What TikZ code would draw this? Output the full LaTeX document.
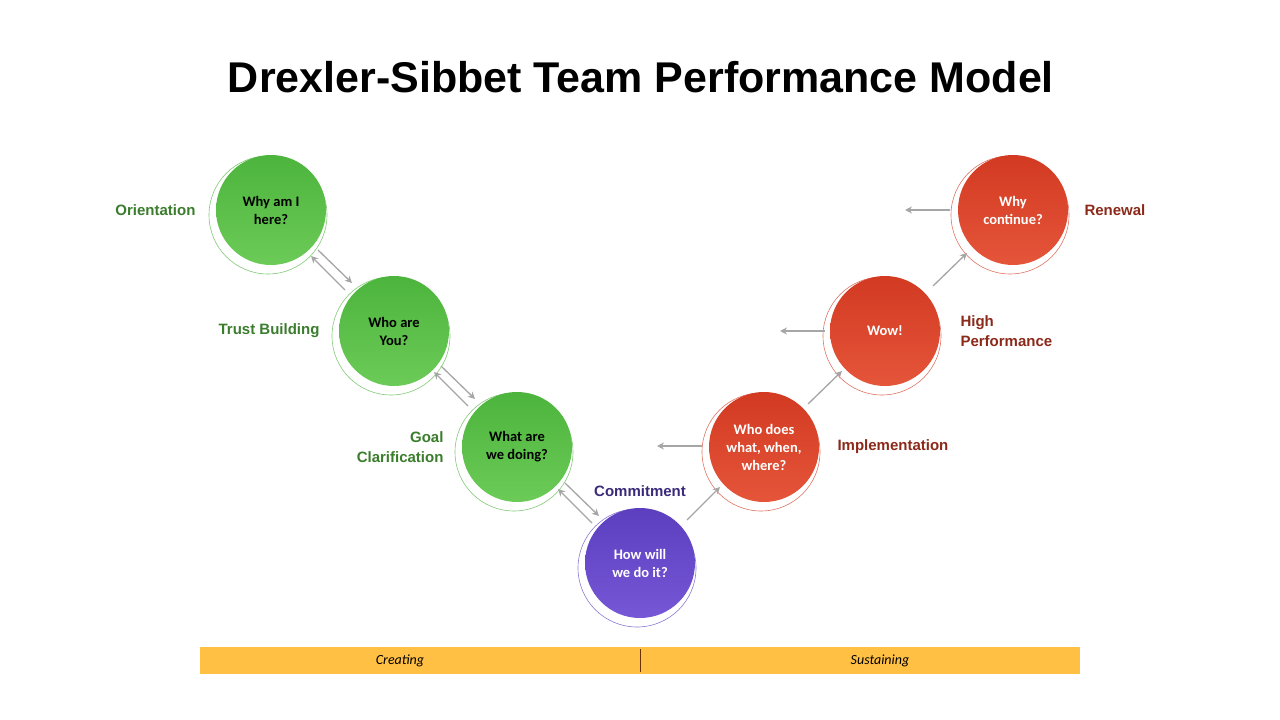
\documentclass[tikz,border=0pt]{standalone}
\usepackage{fontspec}
\setmainfont{Liberation Sans}
\newfontfamily\carfont{Carlito}
\usetikzlibrary{arrows.meta}
\definecolor{gA}{HTML}{4CB43C}\definecolor{gB}{HTML}{6CCB58}
\definecolor{rA}{HTML}{D23A22}\definecolor{rB}{HTML}{E5553A}
\definecolor{pA}{HTML}{5B3FBF}\definecolor{pB}{HTML}{7657D6}
\definecolor{gT}{HTML}{3A7D2C}\definecolor{rT}{HTML}{8B2A1A}\definecolor{pT}{HTML}{3B2A7A}
\begin{document}
\begin{tikzpicture}[x=1pt,y=-1pt,
 stage/.style={circle,minimum size=110pt,inner sep=0pt,align=center,font=\carfont\bfseries\fontsize{14.5}{18}\selectfont},
 gst/.style={stage,top color=gA,bottom color=gB,text=black},
 rst/.style={stage,top color=rA,bottom color=rB,text=white},
 pst/.style={stage,top color=pA,bottom color=pB,text=white},
 lab/.style={font=\bfseries\fontsize{15}{20}\selectfont,align=left},
 arr/.style={draw=gray!70,line width=1.3pt,-{Stealth[length=7pt,width=7pt]}}]
\useasboundingbox (0,0) rectangle (1280,720);
\fill[white] (0,0) rectangle (1280,720);
\node[font=\bfseries\fontsize{43}{50}\selectfont] (title) at (641,77) {Drexler-Sibbet Team Performance Model};
% rings
\foreach \x/\y/\c in {271/210/gA,394/331/gA,517/447/gA,640/563/pA,764/447/rA,885/331/rA,1013/210/rA}
  \draw[\c!70,line width=0.6pt] (\x-3,\y+5) circle (59);
\node[gst] (o) at (271,210) {Why am I\\here?};
\node[gst] (t) at (394,331) {Who are\\You?};
\node[gst] (g) at (517,447) {What are\\we doing?};
\node[pst] (c) at (640,563) {How will\\we do it?};
\node[rst] (i) at (764,447) {Who does\\what, when,\\where?};
\node[rst] (h) at (885,331) {Wow!};
\node[rst] (r) at (1013,210) {Why\\continue?};
% labels
\node[lab,text=gT,anchor=east] (lo) at (199,210) {Orientation};
\node[lab,text=gT,anchor=east] (lt) at (323,331) {Trust Building};
\node[lab,text=gT,anchor=east,align=right] (lg) at (447,447) {Goal\\Clarification};
\node[lab,text=pT] (lc) at (640,491) {Commitment};
\node[lab,text=rT,anchor=west] (li) at (834,447) {Implementation};
\node[lab,text=rT,anchor=west] (lh) at (957,331) {High\\Performance};
\node[lab,text=rT,anchor=west] (lr) at (1081,210) {Renewal};
% arrows
\coordinate (a1) at (318,250); \coordinate (a2) at (352,283);
\coordinate (a3) at (345,290); \coordinate (a4) at (311,256);
\draw[arr] (a1) -- (a2); \draw[arr] (a3) -- (a4);
\coordinate (b1) at (441,366); \coordinate (b2) at (475,399);
\coordinate (b3) at (468,406); \coordinate (b4) at (434,372);
\draw[arr] (b1) -- (b2); \draw[arr] (b3) -- (b4);
\coordinate (c1) at (565,483); \coordinate (c2) at (599,516);
\coordinate (c3) at (592,523); \coordinate (c4) at (558,489);
\draw[arr] (c1) -- (c2); \draw[arr] (c3) -- (c4);
\coordinate (d1) at (687,520); \coordinate (d2) at (720,487);
\coordinate (e1) at (808,404); \coordinate (e2) at (842,371);
\coordinate (f1) at (933,286); \coordinate (f2) at (967,253);
\draw[arr] (d1) -- (d2); \draw[arr] (e1) -- (e2); \draw[arr] (f1) -- (f2);
\coordinate (l1) at (702,446); \coordinate (l2) at (657,446);
\coordinate (m1) at (825,331); \coordinate (m2) at (780,331);
\coordinate (n1) at (950,210); \coordinate (n2) at (905,210);
\draw[arr] (l1) -- (l2); \draw[arr] (m1) -- (m2); \draw[arr] (n1) -- (n2);
% bar
\fill[fill={rgb,255:red,255;green,192;blue,68}] (200,647) rectangle (1080,674);
\draw[black!60!orange,line width=1pt] (640,649) -- (640,672);
\node[font=\carfont\itshape\fontsize{14}{16}\selectfont] (cr) at (400,661) {Creating};
\node[font=\carfont\itshape\fontsize{14}{16}\selectfont] (su) at (880,661) {Sustaining};
\end{tikzpicture}
\end{document}
